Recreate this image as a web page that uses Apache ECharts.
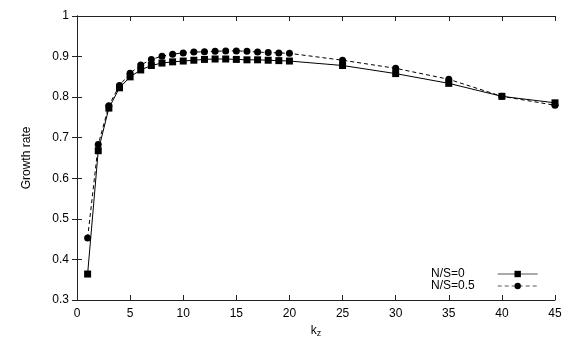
<!DOCTYPE html>
<html>
<head>
<meta charset="utf-8">
<script src="https://cdn.jsdelivr.net/npm/echarts@6/dist/echarts.min.js"></script>
<style>
html,body{margin:0;padding:0;background:#fff;}
#chart{width:576px;height:360px;}
</style>
</head>
<body>
<div id="chart"></div>
<script>
var kz = [1,2,3,4,5,6,7,8,9,10,11,12,13,14,15,16,17,18,19,20,25,30,35,40,45];
var ns0 = [0.364,0.668,0.773,0.823,0.850,0.867,0.878,0.884,0.887,0.889,0.891,0.893,0.894,0.894,0.893,0.892,0.892,0.891,0.890,0.889,0.878,0.858,0.834,0.802,0.786];
var ns05 = [0.453,0.683,0.779,0.829,0.859,0.879,0.893,0.901,0.906,0.909,0.911,0.912,0.913,0.914,0.914,0.913,0.911,0.910,0.909,0.908,0.891,0.871,0.844,0.802,0.780];
var seriesNames = ['N/S=0', 'N/S=0.5'];

function pairs(xs, ys) {
    return xs.map(function (x, i) { return [x, ys[i]]; });
}

var font = 'Liberation Sans, Arial, sans-serif';
var frame = {lineStyle: {color: '#222', width: 1}};

// gnuplot style key: text left, sample on the right
function keyEntry(name, top, padRight, dash) {
    return {
        left: 431,
        top: top,
        padding: 0,
        align: 'right',
        itemWidth: 40,
        itemHeight: 8,
        textStyle: {fontFamily: font, fontSize: 12, color: '#000', lineHeight: 12, padding: [0, padRight, 0, 0]},
        data: [{name: name, lineStyle: {color: '#aaa', width: 2, type: dash}}]
    };
}

var chart = echarts.init(document.getElementById('chart'), null, {renderer: 'canvas'});
chart.setOption({
    animation: false,
    textStyle: {fontFamily: font},
    grid: {left: 77, right: 21, top: 16, bottom: 60},
    legend: [
        keyEntry(seriesNames[0], 268, 28, 'solid'),
        keyEntry(seriesNames[1], 280, 18, [4, 3])
    ],
    xAxis: [{
        type: 'value', min: 0, max: 45, interval: 5,
        name: '{a|k}{b|z}', nameLocation: 'middle', nameGap: 23,
        nameTextStyle: {rich: {
            a: {fontSize: 12, color: '#000', fontFamily: font},
            b: {fontSize: 9, color: '#000', fontFamily: font, verticalAlign: 'bottom', padding: [6, 0, 0, 0]}
        }},
        axisLine: frame,
        axisTick: {inside: true, length: 5, lineStyle: {color: '#222'}},
        axisLabel: {color: '#000', fontSize: 12, margin: 8},
        splitLine: {show: false}
    }, {
        type: 'value', min: 0, max: 45, interval: 5, position: 'top',
        axisLine: frame,
        axisTick: {inside: true, length: 5, lineStyle: {color: '#222'}},
        axisLabel: {show: false},
        splitLine: {show: false}
    }],
    yAxis: [{
        type: 'value', min: 0.3, max: 1, interval: 0.1,
        name: 'Growth rate', nameLocation: 'middle', nameGap: 44,
        nameTextStyle: {color: '#000', fontSize: 12, fontFamily: font},
        axisLine: {show: true, lineStyle: {color: '#222', width: 1}},
        axisTick: {inside: true, length: 5, lineStyle: {color: '#222'}},
        axisLabel: {color: '#000', fontSize: 12, margin: 8},
        splitLine: {show: false}
    }, {
        type: 'value', min: 0.3, max: 1, interval: 0.1, position: 'right',
        axisLine: {show: true, lineStyle: {color: '#222', width: 1}},
        axisTick: {inside: true, length: 5, lineStyle: {color: '#222'}},
        axisLabel: {show: false},
        splitLine: {show: false}
    }],
    series: [{
        name: seriesNames[0],
        type: 'line',
        data: pairs(kz, ns0),
        symbol: 'rect',
        symbolSize: 7,
        itemStyle: {color: '#000'},
        lineStyle: {color: '#000', width: 1}
    }, {
        name: seriesNames[1],
        type: 'line',
        data: pairs(kz, ns05),
        symbol: 'circle',
        symbolSize: 7,
        itemStyle: {color: '#000'},
        lineStyle: {color: '#000', width: 1, type: [4, 3]}
    }]
});
</script>
</body>
</html>
